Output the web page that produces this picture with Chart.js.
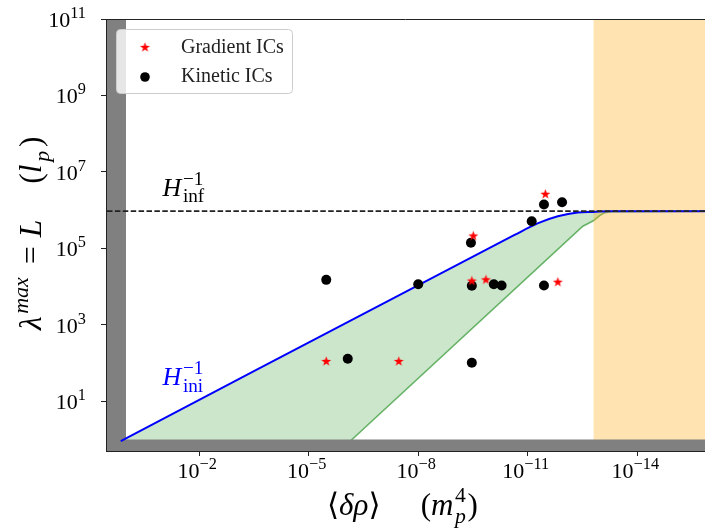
<!DOCTYPE html>
<html>
<head>
<meta charset="utf-8">
<script src="https://cdn.jsdelivr.net/npm/chart.js@4.4.1/dist/chart.umd.min.js"></script>
<style>
  html, body { margin: 0; padding: 0; background: #fff; overflow: hidden; }
  #wrap { width: 705px; height: 530px; }
</style>
</head>
<body>
<div id="wrap"><canvas id="lambdaChart"></canvas></div>
<script>
// axis ticks
const xTicks = [1e-2, 1e-5, 1e-8, 1e-11, 1e-14];
const xTickExp = ['\u22122', '\u22125', '\u22128', '\u221211', '\u221214'];
const yTicks = [1e1, 1e3, 1e5, 1e7, 1e9, 1e11];
const yTickExp = ['1', '3', '5', '7', '9', '11'];
const xRange = [1.4e-16, 3.55];
const yRange = [0.5, 1e11];

// initial conditions
const gradientX = [3.3e-12, 3.1e-10, 3.4e-10, 1.4e-10, 1.5e-12, 3.3e-6, 3.4e-8];
const gradientY = [2.6e6, 2.1e5, 1.4e4, 1.5e4, 1.3e4, 110, 110];
const kineticX = [3.3e-6, 1e-8, 3.6e-12, 1.15e-12, 7.8e-12, 3.6e-10, 3.4e-10, 8.5e-11, 5.2e-11, 3.6e-12, 8.5e-7, 3.4e-10];
const kineticY = [1.5e4, 1.15e4, 1.4e6, 1.6e6, 5.1e5, 1.4e5, 1.05e4, 1.15e4, 1.07e4, 1.07e4, 129, 102];

// H_ini^-1 curve (upper edge of green region)
const hIniX = [1.4, 2.3e-11, 5.4e-12, 1.5e-12, 4.3e-13, 1.6e-13, 5.8e-14, 1e-16];
const hIniY = [0.91, 2.24e5, 4.5e5, 6.9e5, 8.7e5, 9.0e5, 9.35e5, 9.4e5];
// lower edge of green region
const lowerX = [1.4, 7.2e-7, 3.1e-13, 1.6e-13, 1.07e-13, 7.9e-14, 5e-14, 1e-16];
const lowerY = [0.91, 0.91, 3.8e5, 5.25e5, 7.2e5, 8.5e5, 9.1e5, 9.4e5];

const hInf = 9.4e5;
const planckEdge = 1;       // grey bands: rho > 1, lambda < 1
const orangeEdge = 1.6e-13;
const hInfLabelAt = [0.1, 2.4e6];
const hIniLabelAt = [0.1, 26];

const SERIF = '"Liberation Serif", "DejaVu Serif", serif';

function makeStar(r, color) {
    const s = Math.ceil(r * 2 + 2);
    const c = document.createElement('canvas');
    c.width = s; c.height = s;
    const g = c.getContext('2d');
    g.fillStyle = color;
    g.beginPath();
    for (let i = 0; i < 10; i++) {
        const a = -Math.PI / 2 + i * Math.PI / 5;
        const rr = i % 2 === 0 ? r : r * 0.4;
        g.lineTo(s / 2 + rr * Math.cos(a), s / 2 + rr * Math.sin(a));
    }
    g.closePath();
    g.fill();
    return c;
}
const starImg = makeStar(5.2, '#ff0000');

const pts = (xs, ys) => xs.map((x, i) => ({x: x, y: ys[i]}));

// rich text with sub/superscripts
function runFont(it, size) {
    return (it ? 'italic ' : '') + size.toFixed(1) + 'px ' + SERIF;
}
function runWidth(ctx, r, size) {
    if (r.gap) return r.gap * size;
    const k = r.k || 0.7;
    if (r.sup !== undefined || r.sub !== undefined) {
        let w = 0;
        if (r.sup) { ctx.font = runFont(r.supIt, size * k); w = Math.max(w, ctx.measureText(r.sup).width); }
        if (r.sub) { ctx.font = runFont(r.subIt, size * k); w = Math.max(w, ctx.measureText(r.sub).width); }
        return w;
    }
    ctx.font = runFont(r.it, size * (r.s || 1));
    return ctx.measureText(r.t).width;
}
function drawRich(ctx, runs, x, y, size, color, align) {
    const w = runs.reduce((s, r) => s + runWidth(ctx, r, size), 0);
    let cx = align === 'center' ? x - w / 2 : align === 'right' ? x - w : x;
    ctx.fillStyle = color;
    ctx.textAlign = 'left';
    ctx.textBaseline = 'alphabetic';
    for (const r of runs) {
        const rw = runWidth(ctx, r, size);
        const k = r.k || 0.7;
        if (r.sup !== undefined || r.sub !== undefined) {
            if (r.sup) { ctx.font = runFont(r.supIt, size * k); ctx.fillText(r.sup, cx, y - 0.42 * size); }
            if (r.sub) { ctx.font = runFont(r.subIt, size * k); ctx.fillText(r.sub, cx, y + 0.25 * size); }
        } else if (!r.gap) {
            ctx.font = runFont(r.it, size * (r.s || 1));
            ctx.fillText(r.t, cx, y + (r.dy || 0) * size);
        }
        cx += rw;
    }
}

const decor = {
    id: 'decor',
    afterDraw(chart) {
        const ctx = chart.ctx;
        const a = chart.chartArea;
        const x = chart.scales.x, y = chart.scales.y;
        ctx.save();
        // top spine
        ctx.strokeStyle = '#222';
        ctx.lineWidth = 1;
        ctx.beginPath();
        ctx.moveTo(a.left, a.top + 0.5);
        ctx.lineTo(a.right, a.top + 0.5);
        ctx.stroke();

        // tick labels
        xTicks.forEach((v, i) => {
            drawRich(ctx, [{t: '10'}, {t: xTickExp[i], s: 0.74, dy: -0.42}], x.getPixelForValue(v) - 2, a.bottom + 27, 22, '#000', 'center');
        });
        yTicks.forEach((v, i) => {
            drawRich(ctx, [{t: '10'}, {t: yTickExp[i], s: 0.74, dy: -0.42}], a.left - 20, y.getPixelForValue(v) + 8, 22, '#000', 'right');
        });

        // axis titles
        drawRich(ctx, [{t: '\u27E8'}, {t: '\u03B4', it: true}, {t: '\u03C1', it: true}, {t: '\u27E9'}, {gap: 1.3},
            {t: '('}, {t: 'm', it: true}, {gap: 0.05}, {sup: '4', sub: 'p', subIt: true}, {gap: 0.05}, {t: ')'}],
            327, a.bottom + 64, 31, '#000', 'left');
        ctx.save();
        ctx.translate(41, 330);
        ctx.rotate(-Math.PI / 2);
        drawRich(ctx, [{t: '\u03BB', it: true}, {gap: 0.08}, {sup: 'max', supIt: true}, {gap: 0.42}, {t: '='}, {gap: 0.28},
            {t: 'L', it: true}, {gap: 1.15}, {t: '('}, {t: 'l', it: true}, {gap: 0.08}, {sub: 'p', subIt: true}, {gap: 0.12}, {t: ')'}],
            0, 0, 31.5, '#000', 'left');
        ctx.restore();

        // curve labels
        drawRich(ctx, [{t: 'H', it: true}, {gap: 0.06}, {sup: '\u22121', sub: 'inf', k: 0.74}],
            x.getPixelForValue(hInfLabelAt[0]), y.getPixelForValue(hInfLabelAt[1]), 26, '#000', 'left');
        drawRich(ctx, [{t: 'H', it: true}, {gap: 0.06}, {sup: '\u22121', sub: 'ini', k: 0.74}],
            x.getPixelForValue(hIniLabelAt[0]), y.getPixelForValue(hIniLabelAt[1]), 26, '#0000ff', 'left');

        // legend
        const bx = a.left + 10, by = a.top + 10;
        ctx.fillStyle = 'rgba(255,255,255,0.8)';
        ctx.strokeStyle = '#cccccc';
        ctx.lineWidth = 1;
        ctx.beginPath();
        ctx.roundRect(bx + 0.5, by + 0.5, 176, 64, 4);
        ctx.fill();
        ctx.stroke();
        const items = chart.data.datasets.slice(0, 2);
        items.forEach((ds, i) => {
            const cy = by + 18.5 + i * 29.5;
            if (ds.pointStyle === starImg) {
                ctx.drawImage(starImg, bx + 29 - starImg.width / 2, cy - starImg.height / 2);
            } else {
                ctx.fillStyle = '#000';
                ctx.beginPath();
                ctx.arc(bx + 29, cy, 4.8, 0, Math.PI * 2);
                ctx.fill();
            }
            ctx.fillStyle = '#222';
            ctx.font = '20px ' + SERIF;
            ctx.fillText(ds.label, bx + 65, cy + 5);
        });
        ctx.restore();
    }
};

const clearLine = {showLine: true, borderWidth: 0, borderColor: 'rgba(0,0,0,0)', pointRadius: 0};

new Chart(document.getElementById('lambdaChart'), {
    type: 'scatter',
    data: {
        datasets: [
            {label: 'Gradient ICs', data: pts(gradientX, gradientY), pointStyle: starImg, pointRadius: 5, order: 0},
            {label: 'Kinetic ICs', data: pts(kineticX, kineticY), pointStyle: 'circle', pointRadius: 5,
                backgroundColor: '#000', borderWidth: 0, order: 1},
            {label: 'H_inf', data: [{x: xRange[0], y: hInf}, {x: xRange[1], y: hInf}], showLine: true,
                borderColor: '#222', borderWidth: 1.6, borderDash: [5.5, 2.4], pointRadius: 0, order: 2},
            {label: 'H_ini', data: pts(hIniX, hIniY), showLine: true, borderColor: '#0000ff', borderWidth: 2,
                pointRadius: 0, cubicInterpolationMode: 'monotone', order: 3},
            Object.assign({label: 'greyX', data: [{x: xRange[1], y: yRange[1]}, {x: planckEdge, y: yRange[1]}],
                fill: 'start', backgroundColor: '#808080', order: 4}, clearLine),
            Object.assign({label: 'greyY', data: [{x: xRange[1], y: planckEdge}, {x: xRange[0], y: planckEdge}],
                fill: 'start', backgroundColor: '#808080', order: 5}, clearLine),
            Object.assign({label: 'band', data: [{x: orangeEdge, y: yRange[1]}, {x: xRange[0], y: yRange[1]}],
                fill: 'start', backgroundColor: 'rgba(255,165,0,0.3)', order: 6}, clearLine),
            {label: 'lower', data: pts(lowerX, lowerY), showLine: true, borderColor: 'rgba(0,128,0,0.55)',
                borderWidth: 1.6, pointRadius: 0, tension: 0,
                fill: 3, backgroundColor: 'rgba(0,128,0,0.2)', order: 7}
        ]
    },
    options: {
        responsive: true,
        maintainAspectRatio: false,
        animation: false,
        events: [],
        layout: {autoPadding: false, padding: {top: 19, right: 0, left: 0, bottom: 0}},
        plugins: {legend: {display: false}, tooltip: {enabled: false}},
        scales: {
            x: {
                type: 'logarithmic', reverse: true, min: xRange[0], max: xRange[1],
                afterBuildTicks: s => { s.ticks = xTicks.map(v => ({value: v})); },
                afterFit: s => { s.height = 79; s.paddingLeft = 0; s.paddingRight = 0; },
                ticks: {autoSkip: false, padding: 0, callback: () => ''},
                grid: {drawOnChartArea: false, drawTicks: true, tickLength: 5, color: '#222'},
                border: {display: true, color: '#222', width: 1, z: 1}
            },
            y: {
                type: 'logarithmic', min: yRange[0], max: yRange[1],
                afterBuildTicks: s => { s.ticks = yTicks.map(v => ({value: v})); },
                afterFit: s => { s.width = 106; s.paddingTop = 0; s.paddingBottom = 0; },
                ticks: {autoSkip: false, padding: 0, callback: () => ''},
                grid: {drawOnChartArea: false, drawTicks: true, tickLength: 5, color: '#222'},
                border: {display: true, color: '#222', width: 1, z: 1}
            }
        }
    },
    plugins: [decor]
});
</script>
</body>
</html>
